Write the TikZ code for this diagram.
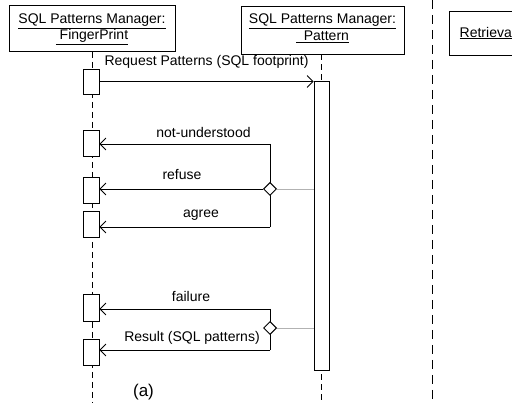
\documentclass[tikz,border=0pt]{standalone}
\usepackage{fontspec}
\setmainfont{Liberation Sans}
\usetikzlibrary{arrows.meta,shapes.geometric}
\begin{document}
\begin{tikzpicture}[x=1pt,y=-1pt,
  every node/.style={font=\fontsize{14}{16}\selectfont},
  obj/.style={draw, line width=0.8pt, fill=white, inner sep=0pt, align=center},
  act/.style={draw, line width=0.8pt, fill=white, inner sep=0pt, minimum width=16pt},
  life/.style={line width=0.8pt, dash pattern=on 6pt off 4pt},
  sep/.style={line width=1.4pt, dash pattern=on 9pt off 6pt},
  msg/.style={line width=0.8pt, -{Straight Barb[length=6pt,width=12pt]}},
  wire/.style={line width=0.8pt},
  link/.style={line width=0.6pt, draw=gray!60},
  choice/.style={diamond, draw, line width=1pt, fill=white, inner sep=0pt, minimum size=13pt},
  lbl/.style={inner sep=0pt}]
\useasboundingbox (0,0) rectangle (512,403);
\clip (0,0) rectangle (512,403);
% separator
\coordinate (s1) at (432.5,0);
\coordinate (s2) at (432.5,400);
\draw[sep] (s1) -- (s2);
% objects
\node[obj, minimum width=166pt, minimum height=46pt] (o1) at (92,28.5) {};
\node[lbl] (t1a) at (92,21) {\underline{SQL Patterns Manager:}};
\node[lbl] (t1b) at (92,37) {\underline{\ FingerPrint}};
\node[obj, minimum width=163pt, minimum height=48pt] (o2) at (322.5,30) {};
\node[lbl] (t2a) at (322.5,21) {\underline{SQL Patterns Manager:}};
\node[lbl] (t2b) at (322.5,37) {\underline{\ \ Pattern}};
\node[obj, minimum width=120pt, minimum height=44pt, anchor=north west] (o3) at (449,11) {};
\node[lbl, anchor=west] (t3) at (459.5,33) {\underline{Retrieva}};
% lifelines
\coordinate (l1b) at (92,403);
\coordinate (l2b) at (321,403);
\draw[life] (o1.south) -- (l1b);
\draw[life] (o2.south -| 321,0) -- (l2b);
% activations
\node[act, minimum height=25pt] (A) at (91,81.5) {};
\node[act, minimum height=26pt] (B) at (91,143) {};
\node[act, minimum height=26pt] (C) at (91,190) {};
\node[act, minimum height=26pt] (D) at (91,224) {};
\node[act, minimum height=27pt] (E) at (91,307.5) {};
\node[act, minimum height=26pt] (F) at (91,352) {};
\node[act, minimum width=15pt, minimum height=289pt] (P) at (321.5,225.5) {};
% request
\draw[msg] (A.east) -- (A.east -| P.west);
\node[lbl] (lr) at (206.5,62) {Request Patterns (SQL footprint)};
% first alternative group
\coordinate (j1) at (270,144);
\coordinate (j3) at (270,227);
\draw[wire] (j1) -- (j3);
\node[choice] (d1) at (270,189) {};
\draw[msg] (j1) -- (j1 -| B.east);
\draw[msg] (d1.west) -- (d1.west -| C.east);
\draw[msg] (j3) -- (j3 -| D.east);
\draw[link] (d1.east) -- (d1.east -| P.west);
\node[lbl] (l1) at (203.5,132) {not-understood};
\node[lbl] (l2) at (182,175) {refuse};
\node[lbl] (l3) at (201,215) {agree};
% second alternative group
\coordinate (j4) at (270,309);
\coordinate (j5) at (270,350);
\coordinate (d2c) at (270,328);
\draw[wire] (j4) -- (j5);
\node[choice] (d2) at (d2c) {};
\draw[msg] (j4) -- (j4 -| E.east);
\draw[msg] (j5) -- (j5 -| F.east);
\draw[link] (d2.east) -- (d2.east -| P.west);
\node[lbl] (l4) at (191,296) {failure};
\node[lbl] (l5) at (192,338) {Result (SQL patterns)};
\node[lbl, font=\fontsize{17}{19}\selectfont] (cap) at (143.5,392) {(a)};
\end{tikzpicture}
\end{document}
